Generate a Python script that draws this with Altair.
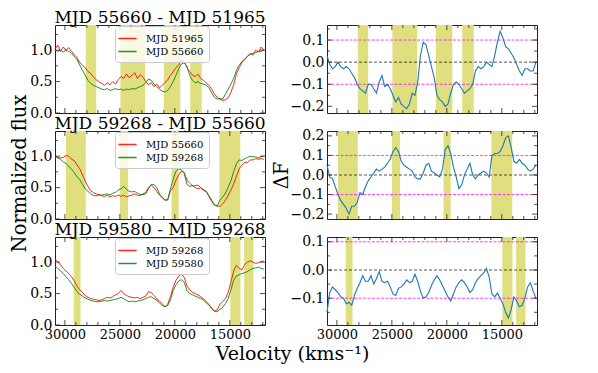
import altair as alt
import pandas as pd

FONT = "DejaVu Serif"

# velocity grid (km/s), plotted on a reversed axis
velocity = list(range(30900, 11899, -250))

# ---------------- Row 1: MJD 55660 - MJD 51965 ----------------
flux_r1_old = [1.02, 1.08, 0.98, 1.05, 1.00, 1.04, 0.98, 0.93, 0.88, 0.80,
               0.76, 0.72, 0.66, 0.63, 0.57, 0.53, 0.50, 0.47, 0.44, 0.48,
               0.45, 0.50, 0.46, 0.53, 0.58, 0.55, 0.62, 0.56, 0.60, 0.64,
               0.55, 0.61, 0.57, 0.50, 0.45, 0.48, 0.42, 0.46, 0.40, 0.44,
               0.48, 0.53, 0.60, 0.66, 0.72, 0.76, 0.85, 0.82, 0.72, 0.66,
               0.60, 0.58, 0.62, 0.55, 0.52, 0.48, 0.44, 0.38, 0.30, 0.25,
               0.22, 0.20, 0.21, 0.24, 0.33, 0.45, 0.62, 0.72, 0.80, 0.85,
               0.90, 0.95, 0.92, 1.00, 0.97, 1.05, 1.00]
flux_r1_new = [1.00, 0.98, 1.00, 0.97, 1.00, 0.98, 0.95, 0.90, 0.85, 0.76,
               0.68, 0.60, 0.52, 0.47, 0.44, 0.42, 0.40, 0.38, 0.37, 0.39,
               0.36, 0.37, 0.39, 0.37, 0.38, 0.36, 0.38, 0.37, 0.39, 0.38,
               0.40, 0.42, 0.44, 0.48, 0.54, 0.52, 0.46, 0.42, 0.38, 0.35,
               0.33, 0.36, 0.42, 0.50, 0.60, 0.70, 0.78, 0.80, 0.74, 0.60,
               0.52, 0.48, 0.50, 0.47, 0.46, 0.44, 0.40, 0.32, 0.25, 0.22,
               0.23, 0.22, 0.30, 0.38, 0.46, 0.55, 0.68, 0.76, 0.82, 0.86,
               0.90, 0.93, 0.95, 0.96, 0.98, 0.98, 1.00]
diff_r1 = [0.03, -0.01, -0.03, -0.02, 0.00, -0.02, -0.03, -0.02, -0.03, -0.05,
           -0.07, -0.10, -0.12, -0.13, -0.14, -0.10, -0.10, -0.12, -0.14, -0.09,
           -0.06, -0.11, -0.10, -0.12, -0.15, -0.18, -0.16, -0.19, -0.20, -0.21,
           -0.19, -0.14, -0.15, -0.09, 0.03, 0.09, 0.08, 0.03, -0.02, -0.07,
           -0.15, -0.17, -0.18, -0.20, -0.19, -0.14, -0.10, -0.09, -0.10, -0.12,
           -0.14, -0.13, -0.12, -0.10, -0.04, -0.02, -0.03, -0.02, 0.00, -0.01,
           -0.02, 0.03, 0.09, 0.14, 0.11, 0.07, 0.06, 0.04, 0.02, -0.01,
           -0.04, -0.06, -0.03, -0.03, -0.04, -0.04, 0.00]
bands_r1 = [[28100, 27150], [24950, 22700], [21000, 19500], [18600, 17550]]

# ---------------- Row 2: MJD 59268 - MJD 55660 ----------------
flux_r2_old = [1.00, 0.98, 0.97, 0.98, 1.01, 1.00, 0.95, 0.93, 0.86, 0.80,
               0.70, 0.60, 0.52, 0.45, 0.42, 0.40, 0.39, 0.37, 0.36, 0.38,
               0.35, 0.37, 0.36, 0.38, 0.36, 0.38, 0.35, 0.37, 0.38, 0.40,
               0.38, 0.37, 0.40, 0.42, 0.50, 0.54, 0.50, 0.44, 0.38, 0.34,
               0.30, 0.31, 0.45, 0.50, 0.62, 0.70, 0.76, 0.74, 0.62, 0.57,
               0.53, 0.50, 0.48, 0.50, 0.47, 0.44, 0.36, 0.28, 0.22, 0.21,
               0.20, 0.24, 0.30, 0.38, 0.46, 0.56, 0.68, 0.80, 0.86, 0.90,
               0.90, 0.94, 0.94, 0.96, 0.95, 0.96, 0.95]
flux_r2_new = [1.00, 0.97, 0.95, 0.91, 0.88, 0.84, 0.79, 0.74, 0.67, 0.63,
               0.55, 0.48, 0.44, 0.40, 0.37, 0.37, 0.38, 0.38, 0.39, 0.40,
               0.38, 0.41, 0.42, 0.46, 0.48, 0.52, 0.47, 0.44, 0.43, 0.44,
               0.41, 0.39, 0.39, 0.40, 0.48, 0.55, 0.55, 0.50, 0.40, 0.35,
               0.30, 0.30, 0.48, 0.63, 0.76, 0.80, 0.78, 0.73, 0.55, 0.52,
               0.53, 0.53, 0.54, 0.50, 0.45, 0.44, 0.37, 0.30, 0.23, 0.20,
               0.30, 0.35, 0.41, 0.50, 0.61, 0.75, 0.88, 0.94, 0.93, 0.96,
               0.98, 1.00, 0.99, 0.99, 0.97, 0.99, 1.00]
diff_r2 = [0.05, -0.01, -0.02, -0.06, -0.10, -0.13, -0.15, -0.17, -0.20, -0.16,
           -0.16, -0.14, -0.09, -0.10, -0.06, -0.03, -0.01, 0.01, 0.03, 0.02,
           0.03, 0.04, 0.06, 0.08, 0.12, 0.14, 0.12, 0.07, 0.05, 0.04,
           0.03, 0.02, -0.01, -0.02, -0.02, 0.01, 0.05, 0.06, 0.02, 0.01,
           0.00, -0.01, 0.03, 0.13, 0.15, 0.11, 0.04, -0.01, -0.07, -0.05,
           0.00, 0.03, 0.06, 0.00, -0.02, 0.00, 0.01, 0.02, 0.01, -0.01,
           0.10, 0.11, 0.11, 0.12, 0.15, 0.19, 0.20, 0.14, 0.07, 0.06,
           0.08, 0.06, 0.05, 0.03, 0.02, 0.03, 0.05]
bands_r2 = [[29900, 28100], [25000, 24250], [20300, 19650], [15950, 14050]]

# ---------------- Row 3: MJD 59580 - MJD 59268 ----------------
flux_r3_old = [1.05, 1.00, 0.96, 0.90, 0.86, 0.82, 0.77, 0.70, 0.62, 0.56,
               0.52, 0.47, 0.44, 0.42, 0.41, 0.40, 0.39, 0.40, 0.42, 0.44,
               0.43, 0.45, 0.48, 0.50, 0.55, 0.50, 0.47, 0.45, 0.44, 0.43,
               0.44, 0.42, 0.44, 0.46, 0.53, 0.52, 0.47, 0.42, 0.38, 0.34,
               0.29, 0.33, 0.45, 0.60, 0.71, 0.78, 0.81, 0.76, 0.62, 0.56,
               0.52, 0.50, 0.48, 0.45, 0.42, 0.37, 0.33, 0.27, 0.22, 0.24,
               0.33, 0.37, 0.42, 0.52, 0.68, 0.86, 0.95, 0.90, 0.88, 0.96,
               1.00, 1.02, 1.00, 0.98, 0.99, 1.01, 1.02]
flux_r3_new = [0.93, 0.90, 0.86, 0.82, 0.77, 0.72, 0.66, 0.60, 0.53, 0.49,
               0.46, 0.43, 0.41, 0.39, 0.38, 0.37, 0.37, 0.38, 0.39, 0.38,
               0.39, 0.40, 0.41, 0.42, 0.44, 0.42, 0.39, 0.37, 0.38, 0.37,
               0.38, 0.39, 0.40, 0.42, 0.44, 0.45, 0.42, 0.40, 0.35, 0.31,
               0.29, 0.31, 0.40, 0.55, 0.64, 0.70, 0.72, 0.68, 0.55, 0.50,
               0.48, 0.46, 0.44, 0.42, 0.40, 0.35, 0.32, 0.26, 0.22, 0.21,
               0.25, 0.28, 0.34, 0.42, 0.56, 0.71, 0.78, 0.80, 0.82, 0.83,
               0.85, 0.88, 0.90, 0.91, 0.92, 0.90, 0.89]
diff_r3 = [-0.15, -0.08, -0.06, -0.07, -0.08, -0.095, -0.10, -0.12, -0.115, -0.125,
           -0.09, -0.065, -0.045, -0.02, -0.04, -0.04, -0.02, -0.05, -0.03, -0.005,
           -0.04, -0.045, -0.04, -0.06, -0.085, -0.09, -0.065, -0.06, -0.05, -0.035,
           -0.045, -0.04, -0.015, -0.04, -0.075, -0.10, -0.095, -0.08, -0.055, -0.035,
           -0.02, -0.035, -0.055, -0.075, -0.095, -0.11, -0.085, -0.06, -0.045, -0.035,
           -0.045, -0.06, -0.08, -0.07, -0.045, -0.03, -0.02, -0.01, 0.005, -0.025,
           -0.085, -0.095, -0.082, -0.10, -0.12, -0.15, -0.17, -0.14, -0.095, -0.11,
           -0.13, -0.125, -0.10, -0.06, -0.045, -0.075, -0.10]
bands_r3 = [[29200, 28580], [14950, 14030], [13700, 12850]]

row_titles = ["MJD 55660 - MJD 51965", "MJD 59268 - MJD 55660", "MJD 59580 - MJD 59268"]
legend_labels = [["MJD 51965", "MJD 55660"], ["MJD 55660", "MJD 59268"], ["MJD 59268", "MJD 59580"]]
flux_old = [flux_r1_old, flux_r2_old, flux_r3_old]
flux_new = [flux_r1_new, flux_r2_new, flux_r3_new]
diffs = [diff_r1, diff_r2, diff_r3]
bands = [bands_r1, bands_r2, bands_r3]

# axis ticks
x_major = [30000, 25000, 20000, 15000]
x_minor = [29000, 28000, 27000, 26000, 24000, 23000, 22000, 21000,
           19000, 18000, 17000, 16000, 14000, 13000, 12000]
x_domain = [11800, 30900]
flux_major = [0.0, 0.5, 1.0]
flux_minor = [0.25, 0.75, 1.25]
flux_domain = [0.0, 1.4]
diff_domains = [[-0.23, 0.168], [-0.225, 0.225], [-0.195, 0.117]]
diff_major = [[-0.2, -0.1, 0.0, 0.1], [-0.2, -0.1, 0.0, 0.1, 0.2], [-0.1, 0.0, 0.1]]
diff_minor = [[-0.15, -0.05, 0.05, 0.15], [-0.15, -0.05, 0.05, 0.15], [-0.15, -0.05, 0.05]]
zero_level = [0.0]
limit_levels = [-0.1, 0.1]

W, H = 210, 88
BAND = "#dfdf7f"
TICKC = "#222222"
MAJ, MIN = 5, 3


def tick_layers(xs, ys, xax, yax, xmaj, xmin, ymaj, ymin):
    out = []
    for vals, ln in ((xmaj, MAJ), (xmin, MIN)):
        d = pd.DataFrame({"t": vals})
        for y0, y1 in ((H - ln, H), (0, ln)):
            out.append(alt.Chart(d).mark_rule(color=TICKC, strokeWidth=0.8).encode(
                x=alt.X("t:Q", scale=xs, axis=xax), y=alt.value(y0), y2=alt.value(y1)))
    for vals, ln in ((ymaj, MAJ), (ymin, MIN)):
        d = pd.DataFrame({"t": vals})
        for x0, x1 in ((0, ln), (W - ln, W)):
            out.append(alt.Chart(d).mark_rule(color=TICKC, strokeWidth=0.8).encode(
                y=alt.Y("t:Q", scale=ys, axis=yax), x=alt.value(x0), x2=alt.value(x1)))
    return out


def band_layer(k, xs, xax):
    bdf = pd.DataFrame({"v1": [b[0] for b in bands[k]], "v2": [b[1] for b in bands[k]]})
    return alt.Chart(bdf).mark_rect(color=BAND).encode(
        x=alt.X("v1:Q", scale=xs, axis=xax), x2="v2:Q")


def title_layer(k):
    return alt.Chart(pd.DataFrame({"t": [row_titles[k]]})).mark_text(
        font=FONT, fontSize=17, baseline="alphabetic", align="center", color="black"
    ).encode(text="t:N", x=alt.value(W / 2), y=alt.value(-2))


def make_xaxis(k, with_title):
    kw = dict(values=x_major, format="d", labels=(k == 2), ticks=False, domain=False,
              grid=False, labelFlush=False, labelOverlap=False, labelPadding=3,
              labelFontSize=13)
    if k == 2 and with_title:
        kw.update(title="Velocity (kms⁻¹)", titleX=237, titleY=19, titleBaseline="top",
                  titleAlign="center", titleFontSize=19)
    else:
        kw.update(title=None)
    return alt.Axis(**kw)


def flux_panel(k):
    n = len(velocity)
    old, new = legend_labels[k]
    df = pd.DataFrame({"v": velocity * 2,
                       "flux": flux_old[k] + flux_new[k],
                       "epoch": [old] * n + [new] * n})
    xs = alt.Scale(domain=x_domain, reverse=True, nice=False, zero=False)
    ys = alt.Scale(domain=flux_domain, nice=False, zero=False)
    xax = make_xaxis(k, True)
    ykw = dict(values=flux_major, format=".1f", ticks=False, domain=False, grid=False,
               labelFlush=False, labelOverlap=False, labelPadding=3, labelFontSize=14)
    if k == 1:
        ykw.update(title="Normalized flux", titleX=-30, titleY=42, titleBaseline="alphabetic",
                   titleAlign="center", titleAngle=270, titleFontSize=19.5)
    else:
        ykw.update(title=None)
    yax = alt.Axis(**ykw)
    lines = alt.Chart(df).mark_line(strokeWidth=1, opacity=0.85).encode(
        x=alt.X("v:Q", scale=xs, axis=xax),
        y=alt.Y("flux:Q", scale=ys, axis=yax),
        color=alt.Color("epoch:N",
                        scale=alt.Scale(domain=[old, new], range=["#ff0000", "#008000"]),
                        legend=alt.Legend(orient="none", legendX=60, legendY=1, title=None,
                                          symbolType="M-1.4,0H1.4", symbolSize=169,
                                          symbolStrokeWidth=1.5, labelFont=FONT,
                                          labelFontSize=10, labelOffset=11, rowPadding=0,
                                          padding=5, cornerRadius=3,
                                          fillColor="rgba(255,255,255,0.8)",
                                          strokeColor="#cccccc")),
    )
    layers = [band_layer(k, xs, xax), lines]
    layers += tick_layers(xs, ys, xax, yax, x_major, x_minor, flux_major, flux_minor)
    layers.append(title_layer(k))
    return alt.layer(*layers).properties(width=W, height=H)


def diff_panel(k):
    df = pd.DataFrame({"v": velocity, "dF": diffs[k]})
    xs = alt.Scale(domain=x_domain, reverse=True, nice=False, zero=False)
    ys = alt.Scale(domain=diff_domains[k], nice=False, zero=False)
    xax = make_xaxis(k, False)
    ykw = dict(values=diff_major[k], format=".1f", ticks=False, domain=False, grid=False,
               labelFlush=False, labelOverlap=False, labelPadding=3, labelFontSize=14)
    if k == 1:
        ykw.update(title="ΔF", titleX=-40, titleY=44, titleBaseline="alphabetic",
                   titleAlign="center", titleAngle=270, titleFontSize=19.5)
    else:
        ykw.update(title=None)
    yax = alt.Axis(**ykw)
    zero = alt.Chart(pd.DataFrame({"y": zero_level})).mark_rule(
        color="black", strokeDash=[3, 2], strokeWidth=0.8, opacity=0.85).encode(
        y=alt.Y("y:Q", scale=ys, axis=yax))
    limits = alt.Chart(pd.DataFrame({"y": limit_levels})).mark_rule(
        color="#ff00ff", strokeDash=[3, 1.5], strokeWidth=1, opacity=0.75).encode(
        y=alt.Y("y:Q", scale=ys, axis=yax))
    line = alt.Chart(df).mark_line(strokeWidth=1.1, color="#1f77b4").encode(
        x=alt.X("v:Q", scale=xs, axis=xax),
        y=alt.Y("dF:Q", scale=ys, axis=yax),
    )
    layers = [band_layer(k, xs, xax), zero, limits, line]
    layers += tick_layers(xs, ys, xax, yax, x_major, x_minor, diff_major[k], diff_minor[k])
    return alt.layer(*layers).properties(width=W, height=H)


panels = []
for k in range(3):
    panels.append(flux_panel(k))
    panels.append(diff_panel(k))

chart = alt.concat(*panels, columns=2, spacing={"row": 18, "column": 62},
                   bounds="flush").resolve_scale(
    color="independent").resolve_legend(color="independent").properties(
    padding={"left": 0, "top": 0, "right": 4, "bottom": 0}
).configure_view(stroke="#222222", strokeWidth=1).configure_axis(
    labelFont=FONT, labelColor="black", titleFont=FONT, titleFontWeight="normal",
    titleColor="black"
)

chart.save("out.html", embed_options={"renderer": "svg", "actions": False})
